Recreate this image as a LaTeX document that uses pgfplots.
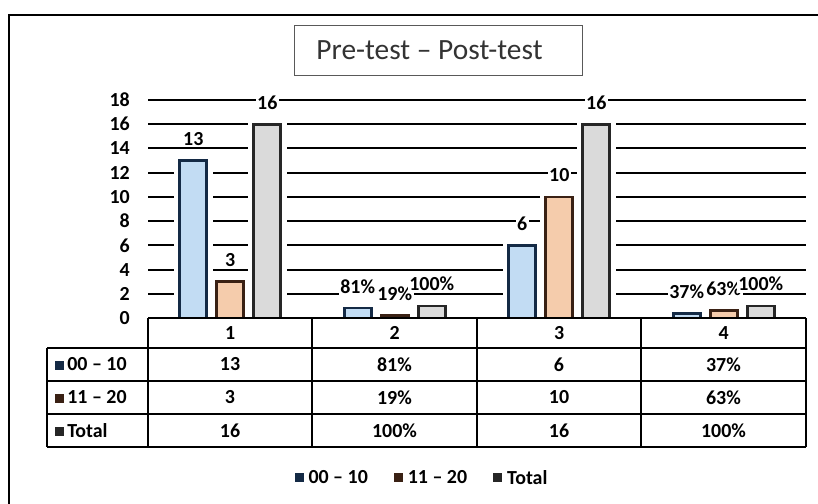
\documentclass[border=0pt]{standalone}
\usepackage{pgfplots}
\pgfplotsset{compat=1.18}
\usepackage{fontspec}
\setmainfont{Carlito}
\definecolor{navyD}{HTML}{142A45}
\definecolor{brownD}{HTML}{3A2114}
\definecolor{grayD}{HTML}{262626}
\definecolor{blueF}{HTML}{C2DCF3}
\definecolor{orF}{HTML}{F5CCAC}
\definecolor{grF}{HTML}{DADADA}
\newcommand{\lab}{\bfseries\fontsize{20}{22}\selectfont}
\begin{document}
\begin{tikzpicture}
\path[use as bounding box] (0bp,0bp) rectangle (818bp,-504bp);
% outer frame (right and bottom cut off)
\draw[line width=1.8bp] (9bp,-504bp) -- (9bp,-15bp) -- (818bp,-15bp);
% title
\draw[draw=black!65, line width=1bp] (294bp,-25bp) rectangle (582bp,-75bp);
\node[font=\fontsize{29.5}{31}\selectfont, text=black!80] at (429.5bp,-50bp) {Pre-test – Post-test};
\begin{axis}[
  at={(148bp,-318bp)}, anchor=south west,
  scale only axis, width=658bp, height=218bp,
  xmin=0.5, xmax=4.5, ymin=0, ymax=18,
  ytick={0,2,...,18},
  xtick={1,2,3,4}, xticklabels={1,2,3,4},
  /pgf/number format/assume math mode=true,
  ticklabel style={font=\lab},
  yticklabel style={anchor=east, inner sep=0pt, xshift=-18bp},
  xticklabel style={anchor=center, inner sep=0pt, yshift=-15bp},
  axis line style={draw=none},
  major tick length=0pt,
  ymajorgrids,
  grid style={black, line width=2bp},
  ybar=10bp, bar width=27bp,
  point meta=explicit symbolic,
  nodes near coords,
  every node near coord/.append style={font=\lab, anchor=south, fill=white, inner sep=1.5bp, yshift=12bp},
  legend style={draw=none, at={(0.4164,-0.734)}, anchor=center, legend columns=3,
    font=\lab, /tikz/every even column/.append style={column sep=24bp}, cells={anchor=west}},
]
\addplot[draw=navyD, line width=2.6bp, fill=blueF,
  preaction={draw=white, line width=12bp},
  legend image code/.code={\node[inner sep=0pt, anchor=west] at (0bp,0bp) {\textcolor{navyD}{\rule{9bp}{9bp}}\kern3bp};}]
  coordinates {(1,13) [13] (2,0.81) [81\%] (3,6) [6] (4,0.37) [37\%]};
\addlegendentry{00 – 10}
\addplot[draw=brownD, line width=2.6bp, fill=orF,
  preaction={draw=white, line width=12bp},
  legend image code/.code={\node[inner sep=0pt, anchor=west] at (0bp,0bp) {\textcolor{brownD}{\rule{9bp}{9bp}}\kern3bp};}]
  coordinates {(1,3) [3] (2,0.19) [19\%] (3,10) [10] (4,0.63) [63\%]};
\addlegendentry{11 – 20}
\addplot[draw=grayD, line width=2.6bp, fill=grF,
  preaction={draw=white, line width=12bp},
  legend image code/.code={\node[inner sep=0pt, anchor=west] at (0bp,0bp) {\textcolor{grayD}{\rule{9bp}{9bp}}\kern3bp};}]
  coordinates {(1,16) [16] (2,1.00) [100\%] (3,16) [16] (4,1.00) [100\%]};
\addlegendentry{Total}
\end{axis}
\begin{scope}[x=1bp, y=-1bp, line width=2bp]
  \draw (148,318) -- (806,318);
  \draw (148,318) -- (148,447);
  \foreach \xx in {312,477,641,806} \draw (\xx,318) -- (\xx,447);
  \foreach \yy in {348,381,414,447} \draw (47,\yy) -- (806,\yy);
  \draw (47,348) -- (47,447);
  \node[font=\lab, anchor=west, inner sep=0pt] at (54,364.5) {\textcolor{navyD}{\rule[1bp]{9bp}{9bp}}\,00 – 10};
  \node[font=\lab, anchor=west, inner sep=0pt] at (54,397.5) {\textcolor{brownD}{\rule[1bp]{9bp}{9bp}}\,11 – 20};
  \node[font=\lab, anchor=west, inner sep=0pt] at (54,430.5) {\textcolor{grayD}{\rule[1bp]{9bp}{9bp}}\,Total};
  \foreach \cx/\a/\b/\c in {230/13/3/16, 394.5/81\%/19\%/100\%, 559/6/10/16, 723.5/37\%/63\%/100\%} {
    \node[font=\lab] at (\cx,364.5) {\a};
    \node[font=\lab] at (\cx,397.5) {\b};
    \node[font=\lab] at (\cx,430.5) {\c};
  }
\end{scope}
\end{tikzpicture}
\end{document}
